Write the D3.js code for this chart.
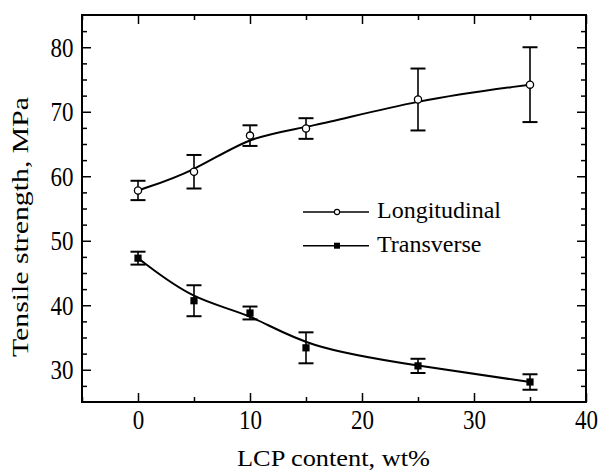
<!DOCTYPE html>
<html>
<head>
<meta charset="utf-8">
<script src="https://cdn.jsdelivr.net/npm/d3@7"></script>
<style>
  html, body { margin: 0; padding: 0; background: #fff; }
  svg { display: block; }
  svg text { font-family: "Liberation Serif", "DejaVu Serif", serif !important; fill: #000; }
</style>
</head>
<body>
<svg id="chart" width="600" height="470"></svg>
<script>
// ---- data ----
const lcpContent = [0, 5, 10, 15, 25, 35];
const longitudinalMean = [57.8, 60.7, 66.3, 67.4, 71.9, 74.2];
const longitudinalErr  = [1.5, 2.6, 1.6, 1.6, 4.8, 5.8];
const transverseMean   = [47.3, 40.7, 38.8, 33.4, 30.6, 28.1];
const transverseErr    = [1.0, 2.4, 1.0, 2.4, 1.1, 1.2];
const seriesNames = ["Longitudinal", "Transverse"];
const xMajorTicks = [0, 10, 20, 30, 40];
const xMinorTicks = [-5, 5, 15, 25, 35];
const yMajorTicks = [30, 40, 50, 60, 70, 80];
const yMinorTicks = [27.5, 32.5, 35, 37.5, 42.5, 45, 47.5, 52.5, 55, 57.5, 62.5, 65, 67.5, 72.5, 75, 77.5, 82.5];
const xTitle = "LCP content, wt%";
const yTitle = "Tensile strength, MPa";

// ---- layout ----
const FONT = "'Liberation Serif', 'DejaVu Serif', serif";
const L = 82, R = 586, T = 15, B = 402;
const svg = d3.select("#chart");
const x = d3.scaleLinear().domain([-5, 40]).range([L, R]);
const y = d3.scaleLinear().domain([25, 85]).range([B, T]);

function styleAxis(g) {
  g.attr("font-family", FONT);
  g.select(".domain").remove();
  g.selectAll("line").attr("stroke", "#000").attr("stroke-width", 1.5);
}
const tickFontSize = 23, tickScaleY = 1.15;

// bottom
const gxB = svg.append("g").attr("transform", `translate(0,${B})`)
  .call(d3.axisBottom(x).tickValues(xMajorTicks).tickSize(-9).tickFormat(d3.format("d")));
styleAxis(gxB);
gxB.selectAll("text").attr("y", null).attr("dy", null)
  .attr("font-size", tickFontSize).style("font-family", FONT)
  .attr("transform", `translate(0,27) scale(1,${tickScaleY})`);
svg.append("g").attr("transform", `translate(0,${B})`)
  .call(d3.axisBottom(x).tickValues(xMinorTicks).tickSize(-5).tickFormat(""))
  .call(styleAxis);
// top
svg.append("g").attr("transform", `translate(0,${T})`)
  .call(d3.axisTop(x).tickValues(xMajorTicks).tickSize(-9).tickFormat(""))
  .call(styleAxis);
svg.append("g").attr("transform", `translate(0,${T})`)
  .call(d3.axisTop(x).tickValues(xMinorTicks).tickSize(-5).tickFormat(""))
  .call(styleAxis);
// left
const gyL = svg.append("g").attr("transform", `translate(${L},0)`)
  .call(d3.axisLeft(y).tickValues(yMajorTicks).tickSize(-9).tickFormat(d3.format("d")));
styleAxis(gyL);
gyL.selectAll("text").attr("x", null).attr("dy", null)
  .attr("font-size", tickFontSize).style("font-family", FONT)
  .attr("text-anchor", "end")
  .attr("transform", `translate(-8.5,9) scale(1,${tickScaleY})`);
svg.append("g").attr("transform", `translate(${L},0)`)
  .call(d3.axisLeft(y).tickValues(yMinorTicks).tickSize(-5).tickFormat(""))
  .call(styleAxis);
// right
svg.append("g").attr("transform", `translate(${R},0)`)
  .call(d3.axisRight(y).tickValues(yMajorTicks).tickSize(-9).tickFormat(""))
  .call(styleAxis);
svg.append("g").attr("transform", `translate(${R},0)`)
  .call(d3.axisRight(y).tickValues(yMinorTicks).tickSize(-5).tickFormat(""))
  .call(styleAxis);

// frame
svg.append("rect").attr("x", L).attr("y", T).attr("width", R - L).attr("height", B - T)
  .attr("fill", "none").attr("stroke", "#000").attr("stroke-width", 2);

// ---- titles ----
svg.append("text").attr("text-anchor", "middle")
  .attr("x", 333.5).attr("y", 466)
  .attr("font-size", 24).style("font-family", FONT)
  .attr("textLength", 193).attr("lengthAdjust", "spacingAndGlyphs")
  .text(xTitle);
svg.append("text").attr("text-anchor", "middle")
  .attr("transform", "translate(28,227) rotate(-90)")
  .attr("font-size", 24).style("font-family", FONT)
  .attr("textLength", 260).attr("lengthAdjust", "spacingAndGlyphs")
  .text(yTitle);

// ---- series ----
const series = [
  { name: seriesNames[0], mean: longitudinalMean, err: longitudinalErr, marker: "circle" },
  { name: seriesNames[1], mean: transverseMean, err: transverseErr, marker: "square" }
];
const line = d3.line().x(d => x(d[0])).y(d => y(d[1])).curve(d3.curveBasis);
const capW = 7.5;

series.forEach(s => {
  const pts = lcpContent.map((v, i) => [v, s.mean[i], s.err[i]]);
  svg.append("path").datum(pts).attr("d", line)
    .attr("fill", "none").attr("stroke", "#000").attr("stroke-width", 2);
  const eg = svg.append("g").attr("stroke", "#000").attr("stroke-width", 1.6);
  pts.forEach(p => {
    eg.append("line").attr("x1", x(p[0])).attr("x2", x(p[0]))
      .attr("y1", y(p[1] + p[2])).attr("y2", y(p[1] - p[2]));
    eg.append("line").attr("x1", x(p[0]) - capW).attr("x2", x(p[0]) + capW)
      .attr("y1", y(p[1] + p[2])).attr("y2", y(p[1] + p[2])).attr("stroke-width", 2);
    eg.append("line").attr("x1", x(p[0]) - capW).attr("x2", x(p[0]) + capW)
      .attr("y1", y(p[1] - p[2])).attr("y2", y(p[1] - p[2])).attr("stroke-width", 2);
  });
  pts.forEach(p => {
    if (s.marker === "circle") {
      svg.append("circle").attr("cx", x(p[0])).attr("cy", y(p[1])).attr("r", 3.6)
        .attr("fill", "#fff").attr("stroke", "#000").attr("stroke-width", 1.3);
    } else {
      svg.append("rect").attr("x", x(p[0]) - 3.6).attr("y", y(p[1]) - 3.6)
        .attr("width", 7.2).attr("height", 7.2).attr("fill", "#000");
    }
  });
});

// ---- legend ----
const legRows = [212, 245.7];
series.forEach((s, i) => {
  const ly = legRows[i];
  svg.append("line").attr("x1", 303).attr("x2", 369).attr("y1", ly).attr("y2", ly)
    .attr("stroke", "#000").attr("stroke-width", 1.6);
  if (s.marker === "circle") {
    svg.append("circle").attr("cx", 337).attr("cy", ly).attr("r", 2.6)
      .attr("fill", "#fff").attr("stroke", "#000").attr("stroke-width", 1.1);
  } else {
    svg.append("rect").attr("x", 337 - 3).attr("y", ly - 3).attr("width", 6).attr("height", 6)
      .attr("fill", "#000");
  }
  svg.append("text").attr("x", 377).attr("y", ly + 5.8).attr("font-size", 24)
    .style("font-family", FONT)
    .text(s.name);
});
</script>
</body>
</html>
